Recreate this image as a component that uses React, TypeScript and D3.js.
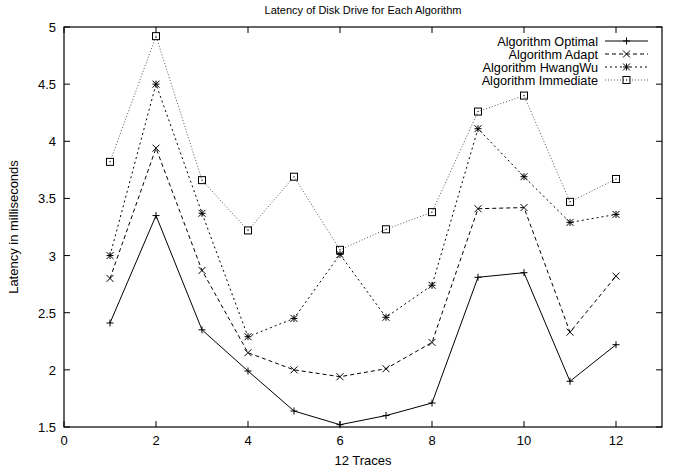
import { useRef, useEffect } from 'react';
import * as d3 from 'd3';

const traces = [1, 2, 3, 4, 5, 6, 7, 8, 9, 10, 11, 12];
const optimal = [2.41, 3.35, 2.35, 1.99, 1.64, 1.52, 1.60, 1.71, 2.81, 2.85, 1.90, 2.22];
const adapt = [2.80, 3.94, 2.87, 2.15, 2.00, 1.94, 2.01, 2.24, 3.41, 3.42, 2.33, 2.82];
const hwangWu = [3.00, 4.50, 3.37, 2.29, 2.45, 3.01, 2.46, 2.74, 4.11, 3.69, 3.29, 3.36];
const immediate = [3.82, 4.92, 3.66, 3.22, 3.69, 3.05, 3.23, 3.38, 4.26, 4.40, 3.47, 3.67];
const xTicks = [0, 2, 4, 6, 8, 10, 12];
const yTicks = [1.5, 2, 2.5, 3, 3.5, 4, 4.5, 5];

const width = 685;
const height = 472;
const margin = { top: 27, right: 23, bottom: 45, left: 64 };

const series = [
    { name: 'Algorithm Optimal', values: optimal, dash: null, color: '#000', marker: 'plus' },
    { name: 'Algorithm Adapt', values: adapt, dash: '4,3', color: '#000', marker: 'cross' },
    { name: 'Algorithm HwangWu', values: hwangWu, dash: '2,3', color: '#000', marker: 'star' },
    { name: 'Algorithm Immediate', values: immediate, dash: '1,2', color: '#555', marker: 'box' },
];

const drawMarker = (g: any, type: string, cx: number, cy: number) => {
    const s = 3.5;
    const line = (x1: number, y1: number, x2: number, y2: number) =>
        g.append('line').attr('x1', cx + x1).attr('y1', cy + y1).attr('x2', cx + x2).attr('y2', cy + y2)
            .attr('stroke', '#000').attr('stroke-width', 1);
    if (type === 'plus' || type === 'star') {
        line(-s, 0, s, 0);
        line(0, -s, 0, s);
    }
    if (type === 'cross' || type === 'star') {
        line(-s, -s, s, s);
        line(-s, s, s, -s);
    }
    if (type === 'box') {
        g.append('rect').attr('x', cx - s).attr('y', cy - s).attr('width', 2 * s).attr('height', 2 * s)
            .attr('fill', 'none').attr('stroke', '#000').attr('stroke-width', 1);
        g.append('rect').attr('x', cx - 0.5).attr('y', cy - 0.5).attr('width', 1).attr('height', 1).attr('fill', '#000');
    }
};

const App = () => {
    const ref = useRef(null);

    useEffect(() => {
        const svg = d3.select(ref.current);
        svg.selectAll('*').remove();

        const x = d3.scaleLinear().domain([0, 13]).range([margin.left, width - margin.right]);
        const y = d3.scaleLinear().domain([1.5, 5]).range([height - margin.bottom, margin.top]);
        const font = 'Liberation Sans, Arial, sans-serif';

        // ticks, mirrored on all four sides like gnuplot
        const axes = svg.append('g').attr('font-family', font).attr('font-size', 13).attr('fill', '#000');
        xTicks.forEach(t => {
            axes.append('line').attr('x1', x(t)).attr('x2', x(t)).attr('y1', y(1.5)).attr('y2', y(1.5) - 6).attr('stroke', '#000');
            axes.append('line').attr('x1', x(t)).attr('x2', x(t)).attr('y1', y(5)).attr('y2', y(5) + 6).attr('stroke', '#000');
            axes.append('text').attr('x', x(t)).attr('y', y(1.5) + 18).attr('text-anchor', 'middle').text(t);
        });
        yTicks.forEach(t => {
            axes.append('line').attr('x1', x(0)).attr('x2', x(0) + 6).attr('y1', y(t)).attr('y2', y(t)).attr('stroke', '#000');
            axes.append('line').attr('x1', x(13)).attr('x2', x(13) - 6).attr('y1', y(t)).attr('y2', y(t)).attr('stroke', '#000');
            axes.append('text').attr('x', x(0) - 8).attr('y', y(t) + 5).attr('text-anchor', 'end').text(t);
        });
        svg.append('rect').attr('x', x(0)).attr('y', y(5)).attr('width', x(13) - x(0)).attr('height', y(1.5) - y(5))
            .attr('fill', 'none').attr('stroke', '#000').attr('stroke-width', 1.2);

        // titles
        svg.append('text').attr('x', (x(0) + x(13)) / 2).attr('y', 14).attr('text-anchor', 'middle')
            .attr('font-family', font).attr('font-size', 11).text('Latency of Disk Drive for Each Algorithm');
        svg.append('text').attr('x', (x(0) + x(13)) / 2).attr('y', 465).attr('text-anchor', 'middle')
            .attr('font-family', font).attr('font-size', 13).text('12 Traces');
        svg.append('text').attr('transform', `translate(18, ${(y(1.5) + y(5)) / 2}) rotate(-90)`).attr('text-anchor', 'middle')
            .attr('font-family', font).attr('font-size', 13).text('Latency in milliseconds');

        const lineGen = d3.line<number>().x((d, i) => x(traces[i])).y(d => y(d));

        series.forEach((s, k) => {
            const g = svg.append('g');
            g.append('path').datum(s.values).attr('d', lineGen).attr('fill', 'none')
                .attr('stroke', s.color).attr('stroke-width', 1)
                .attr('stroke-dasharray', s.dash);
            s.values.forEach((v, i) => drawMarker(g, s.marker, x(traces[i]), y(v)));

            // legend entry
            const ly = 41 + k * 13;
            g.append('text').attr('x', 598).attr('y', ly + 4.5).attr('text-anchor', 'end')
                .attr('font-family', font).attr('font-size', 12.7).text(s.name);
            g.append('line').attr('x1', 605).attr('x2', 648).attr('y1', ly).attr('y2', ly)
                .attr('stroke', s.color).attr('stroke-dasharray', s.dash);
            drawMarker(g, s.marker, 626.5, ly);
        });
    }, []);

    return <svg ref={ref} width={width} height={height} style={{ position: 'absolute', left: 0, top: 0, background: '#fff' }}></svg>;
};

export default App;
